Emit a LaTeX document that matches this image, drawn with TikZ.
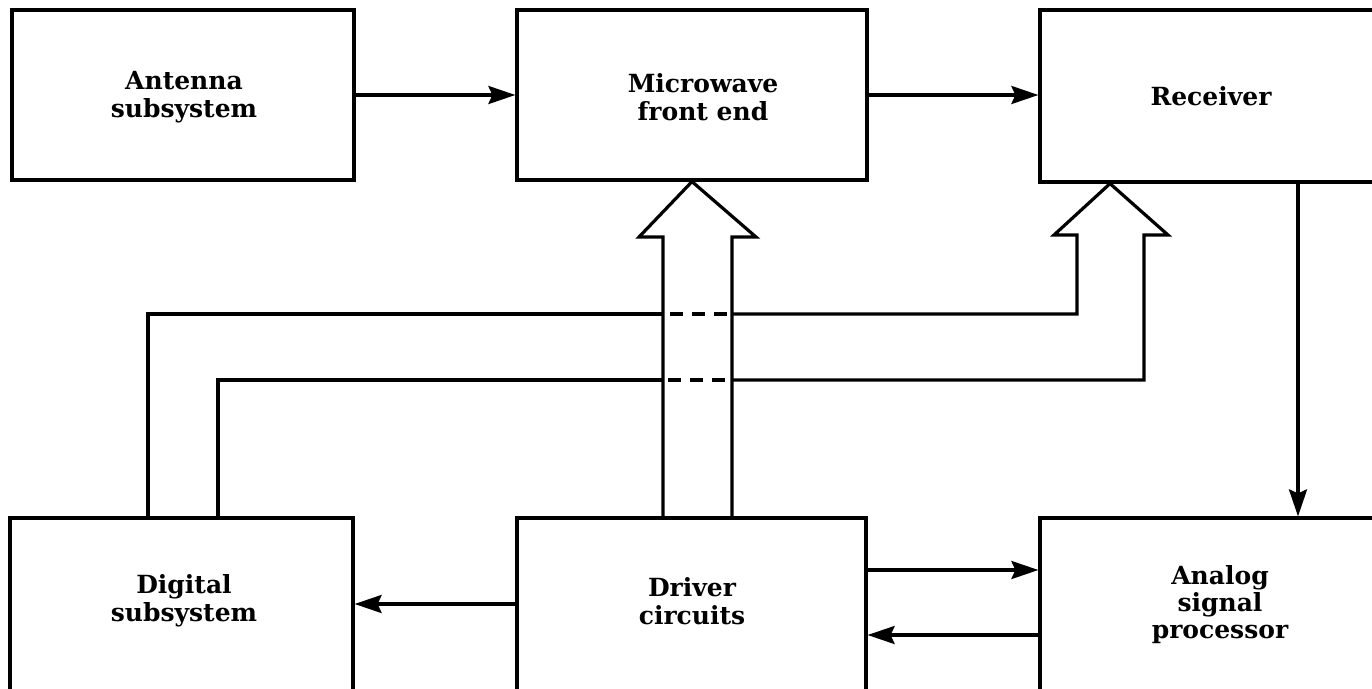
\documentclass[tikz,border=0pt]{standalone}
\usepackage{fontspec}
\setmainfont{DejaVu Serif}
\usetikzlibrary{arrows.meta}
\begin{document}
\begin{tikzpicture}[x=1pt,y=-1pt,
  blk/.style={draw,line width=3.2pt,minimum width=#1,minimum height=170pt,inner sep=0pt},
  txt/.style={font=\bfseries\fontsize{25}{28}\selectfont,align=center},
  ln/.style={line width=3.2pt},
  arr/.style={ln,-{Stealth[length=27pt,width=18pt,inset=4pt]}},
  dsh/.style={ln,dash pattern=on 13pt off 9pt,dash phase=15pt}]
\useasboundingbox (0,0) rectangle (1372,688);
\clip (0,0) rectangle (1372,688);
% boxes
\node[blk=342pt] (ant) at (183,95) {};
\node[blk=350pt] (mw) at (692,95) {};
\node[blk=360pt,minimum height=172pt] (rx) at (1220,96) {};
\node[blk=343pt,minimum height=190pt] (dig) at (181.5,613) {};
\node[blk=349pt,minimum height=190pt] (drv) at (691.5,613) {};
\node[blk=360pt,minimum height=190pt] (an) at (1220,613) {};
% texts
\node[txt] (tant) at (184,97) {Antenna\\subsystem};
\node[txt] (tmw) at (703,97) {Microwave\\front end};
\node[txt] (trx) at (1211,96) {Receiver};
\node[txt] (tdig) at (184,601) {Digital\\subsystem};
\node[txt] (tdrv) at (692,601) {Driver\\circuits};
\node[txt,font=\bfseries\fontsize{25}{27}\selectfont] (tan) at (1220,605) {Analog\\signal\\processor};
% helper coordinates
\coordinate (xv) at (1298,0);
\coordinate (ya) at (0,570);
\coordinate (yb) at (0,635);
\coordinate (yc) at (0,604);
% simple arrows
\draw[arr] (ant.east) -- (mw.west |- ant.east);
\draw[arr] (mw.east) -- (rx.west |- mw.east);
\draw[arr] (rx.south -| xv) -- (an.north -| xv);
\draw[arr] (drv.west |- yc) -- (dig.east |- yc);
\draw[arr] (drv.east |- ya) -- (an.west |- ya);
\draw[arr] (an.west |- yb) -- (drv.east |- yb);
% hollow arrow to microwave front end
\coordinate (m1) at (663,237);
\coordinate (m2) at (732,237);
\draw[ln,line join=miter] (drv.north -| m1) -- (m1) -- (639,237) -- (mw.south) -- (756,237) -- (m2) -- (drv.north -| m2);
% hollow arrow to receiver with two bus lines
\coordinate (o1) at (148,314);
\coordinate (i1) at (218,380);
\draw[ln,line join=miter] (dig.north -| o1) -- (o1) -- (663,314);
\draw[dsh] (663,314) -- (732,314);
\draw[ln,line join=miter] (732,314) -- (1077,314) -- (1077,235) -- (1054,235) -- (rx.south -| 1110,0) -- (1168,235) -- (1144,235) -- (1144,380) -- (732,380);
\draw[dsh] (732,380) -- (663,380);
\draw[ln,line join=miter] (663,380) -- (i1) -- (dig.north -| i1);
\end{tikzpicture}
\end{document}
